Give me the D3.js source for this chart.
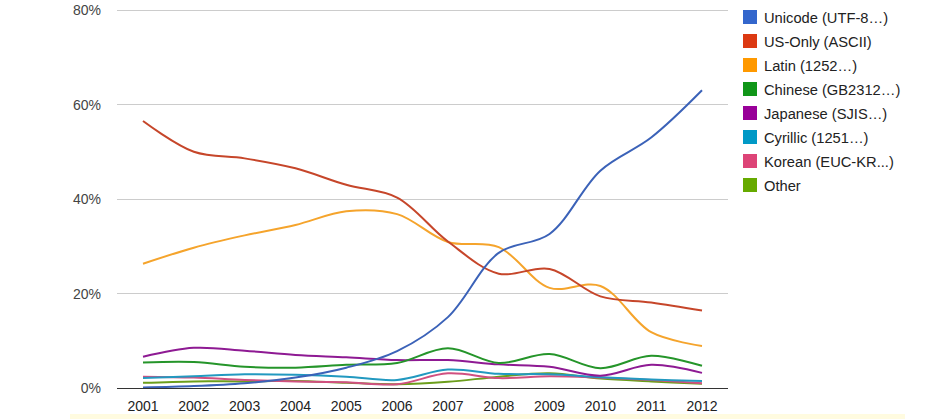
<!DOCTYPE html>
<html><head><meta charset="utf-8">
<script src="https://cdn.jsdelivr.net/npm/d3@7"></script>
<style>
html,body{margin:0;padding:0;background:#fff;}
svg{display:block;font-family:Arial,"Liberation Sans",sans-serif;}
</style></head>
<body>
<svg id="chart" width="939" height="419"></svg>
<script>
const years = [2001,2002,2003,2004,2005,2006,2007,2008,2009,2010,2011,2012];
const seriesNames = ["Unicode (UTF-8…)","US-Only (ASCII)","Latin (1252…)","Chinese (GB2312…)","Japanese (SJIS…)","Cyrillic (1251…)","Korean (EUC-KR...)","Other"];
const colors = ["#3366cc","#dc3912","#ff9900","#109618","#990099","#0099c6","#dd4477","#66aa00"];
const lineColors = ["#3b62b8","#c6462a","#f5a42c","#25952a","#8e1a93","#2299c0","#d05080","#6c9e1c"];
const unicode  = [0.1,0.4,1.0,2.2,4.3,7.8,15.0,28.6,32.6,46.0,53.0,63.0];
const usOnly   = [56.5,50.0,48.6,46.5,43.0,40.3,31.0,24.2,25.2,19.4,18.1,16.4];
const latin    = [26.3,29.7,32.3,34.5,37.4,36.8,30.9,29.8,21.2,21.6,11.8,8.9];
const chinese  = [5.4,5.5,4.5,4.3,4.9,5.3,8.4,5.3,7.2,4.2,6.8,4.7];
const japanese = [6.6,8.5,7.9,7.0,6.5,5.9,5.9,5.0,4.5,2.6,4.9,3.2];
const cyrillic = [2.1,2.5,2.9,2.8,2.4,1.7,3.9,3.0,2.9,2.3,1.8,1.5];
const korean   = [2.4,2.2,1.7,1.4,1.2,0.8,3.1,2.1,2.5,2.2,1.7,1.0];
const other    = [1.1,1.4,1.4,1.5,1.1,0.8,1.3,2.4,3.1,2.0,1.4,0.9];
const allSeries = [unicode,usOnly,latin,chinese,japanese,cyrillic,korean,other];
const yTicks = [0,20,40,60,80];

const svg = d3.select("#chart");
const x = d3.scalePoint().domain(years).range([143,702]);
const y = d3.scaleLinear().domain([0,80]).range([388,10]);

// bottom pale strip
svg.append("rect").attr("x",70).attr("y",414).attr("width",835).attr("height",5).attr("fill","#fffbe0");

// gridlines
svg.append("g").selectAll("line").data(yTicks.filter(d=>d>0)).join("line")
  .attr("x1",117).attr("x2",728).attr("y1",d=>y(d)).attr("y2",d=>y(d))
  .attr("stroke","#cccccc").attr("stroke-width",1).attr("shape-rendering","crispEdges");

// y labels
svg.append("g").selectAll("text").data(yTicks).join("text")
  .attr("x",101).attr("y",d=>y(d)+5).attr("text-anchor","end")
  .attr("font-size",14).attr("fill","#444").text(d=>d+"%");

// x labels
svg.append("g").selectAll("text").data(years).join("text")
  .attr("x",d=>x(d)).attr("y",411).attr("text-anchor","middle")
  .attr("font-size",14).attr("fill","#222").text(d=>d);

// lines (draw in reverse so first series on top)
const line = d3.line().x((d,i)=>x(years[i])).y(d=>y(d)).curve(d3.curveCatmullRom.alpha(0.5));
const order = [7,6,5,4,3,2,1,0];
svg.append("g").selectAll("path").data(order).join("path")
  .attr("d",i=>line(allSeries[i])).attr("fill","none")
  .attr("stroke",i=>lineColors[i]).attr("stroke-width",2);

// baseline
svg.append("line").attr("x1",117).attr("x2",728).attr("y1",y(0)).attr("y2",y(0))
  .attr("stroke","#333").attr("stroke-width",1).attr("shape-rendering","crispEdges");

// legend
const lg = svg.append("g").selectAll("g").data(seriesNames).join("g")
  .attr("transform",(d,i)=>`translate(743,${10+i*24})`);
lg.append("rect").attr("width",14).attr("height",14).attr("fill",(d,i)=>colors[i]);
lg.append("text").attr("x",21).attr("y",12.5).attr("font-size",14.7).attr("fill","#222").text(d=>d);
</script>
</body></html>
